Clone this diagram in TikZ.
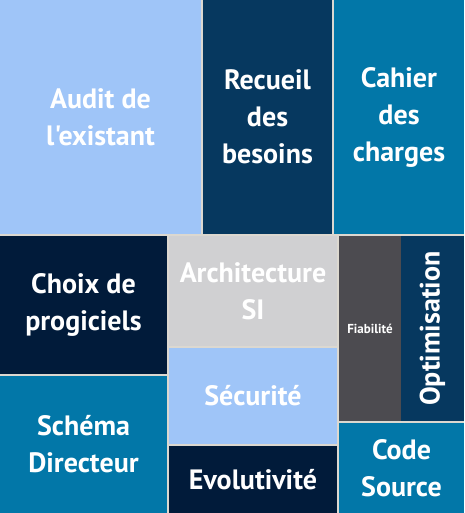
\documentclass[tikz,border=0pt]{standalone}
\usepackage{fontspec}
\setmainfont{PT Sans}[Ligatures=TeXOff]
\definecolor{sepc}{HTML}{DCD8D0}
\definecolor{lightblue}{HTML}{9FC5F8}
\definecolor{navy}{HTML}{06385F}
\definecolor{teal}{HTML}{0277A8}
\definecolor{darknavy}{HTML}{011B3A}
\definecolor{lightgray}{HTML}{D0D0D2}
\definecolor{darkgray}{HTML}{4C4B50}
\begin{document}
\begin{tikzpicture}[x=1pt,y=-1pt,
  tile/.style={draw=none, inner sep=0pt, outer sep=0pt, anchor=north west,
    text=white, align=center, font=\bfseries\fontsize{28}{37}\selectfont},
  lbl/.style={inner sep=0pt, text=white, align=center, font=\bfseries\fontsize{28}{37}\selectfont}]
\fill[sepc] (0,0) rectangle (464,513);
\useasboundingbox (0,0) rectangle (464,513);
% top row
\node[tile, fill=lightblue, minimum width=201pt, minimum height=234pt] (audit) at (0,0) {Audit de\\l'existant};
\node[tile, fill=navy, minimum width=129pt, minimum height=234pt] (recueil) at (203,0) {Recueil\\des\\besoins};
\node[tile, fill=teal, minimum width=130pt, minimum height=234pt] (cahier) at (334,0) {Cahier\\des\\charges};
% left column
\node[tile, fill=darknavy, minimum width=167pt, minimum height=138pt] (choix) at (0,236) {Choix de\\progiciels};
\node[tile, fill=teal, minimum width=167pt, minimum height=137pt] (schema) at (0,376) {Schéma\\Directeur};
% middle column
\node[tile, fill=lightgray, minimum width=168pt, minimum height=110pt] (archi) at (169,236) {Architecture\\SI};
\node[tile, fill=lightblue, minimum width=168pt, minimum height=96pt] (secu) at (169,348) {Sécurité};
\node[tile, fill=darknavy, minimum width=168pt, minimum height=67pt] (evol) at (169,446) {Evolutivité};
% right column
\node[tile, fill=darkgray, minimum width=62pt, minimum height=185pt, font=\bfseries\fontsize{13}{15}\selectfont] (fiab) at (339,236) {Fiabilité};
\node[tile, fill=navy, minimum width=63pt, minimum height=185pt] (optim) at (401,236) {};
\node[lbl, rotate=90] (optimtext) at (optim.center) {Optimisation};
\node[tile, fill=teal, minimum width=125pt, minimum height=90pt] (code) at (339,423) {Code\\Source};
\end{tikzpicture}
\end{document}
